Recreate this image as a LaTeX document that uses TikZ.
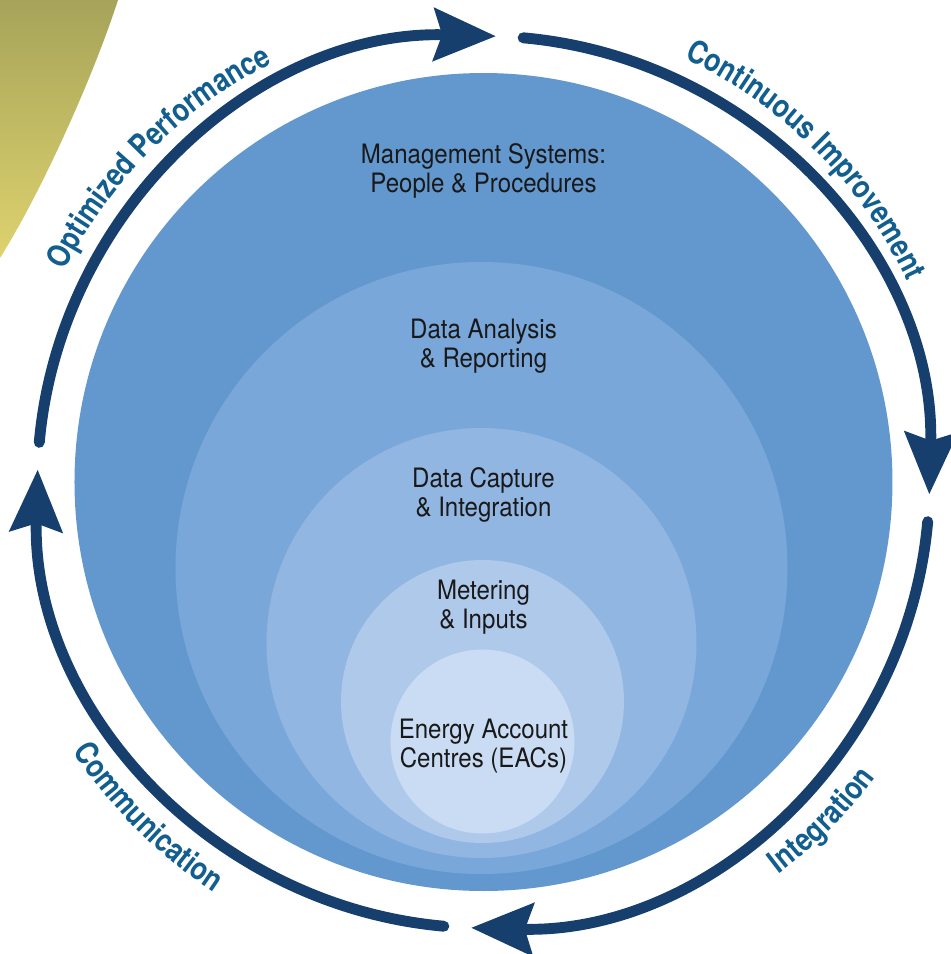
\documentclass[tikz,border=0pt]{standalone}
\usepackage{fontspec}
\setmainfont{TeX Gyre Heros}[FakeStretch=0.9]
\newfontfamily\ringfont{TeX Gyre Heros}[FakeStretch=0.84]
\usetikzlibrary{arrows.meta,decorations.text,positioning}
\definecolor{ringnavy}{RGB}{22,63,110}
\definecolor{ringlabel}{RGB}{17,94,143}
\definecolor{discA}{RGB}{99,152,207}
\definecolor{discB}{RGB}{121,167,217}
\definecolor{discC}{RGB}{146,182,226}
\definecolor{discD}{RGB}{175,201,235}
\definecolor{discE}{RGB}{201,220,243}
\definecolor{cornerolive}{RGB}{166,164,90}
\definecolor{corneryellow}{RGB}{222,210,110}
\tikzset{
    layertext/.style={align=center, text=black!90, font=\fontsize{7.6}{8.3}\selectfont},
    ringarc/.style={draw=ringnavy, line width=3.1pt, line cap=round},
    ringlabel/.style={decorate, decoration={text along path, text align=center,
        text={|\ringfont\bfseries\fontsize{9}{9}\selectfont\color{ringlabel}|#1}}}
}
\begin{document}
\begin{tikzpicture}[>={Stealth[length=17.6pt,width=14.8pt,inset=2.3pt]}]
    \useasboundingbox (-4.835,-4.72) rectangle (4.675,4.82);
    \shade[top color=cornerolive, bottom color=corneryellow]
        (-4.835,4.82) -- (-3.655,4.82) .. controls (-3.92,4.0) and (-4.45,2.85) .. (-4.835,2.24) -- cycle;
    \fill[discA] (0,0) circle (4.09);
    \fill[discB] (-0.02,-0.86) circle (3.06);
    \fill[discC] (-0.02,-1.61) circle (2.15);
    \fill[discD] (-0.01,-2.195) circle (1.415);
    \fill[discE] (-0.01,-2.595) circle (0.92);
    \foreach \a in {0,90,180,270}
        {
            \draw[ringarc, ->] ({174.9-\a}:4.46) arc[start angle=174.9-\a, end angle=88.4-\a, radius=4.46];
        }
    \node[layertext] (mgmt) at (0,3.11) {Management Systems:\\People \& Procedures};
    \node[layertext] (analysis) at (0,1.36) {Data Analysis\\\& Reporting};
    \node[layertext] (capture) at (0,-0.13) {Data Capture\\\& Integration};
    \node[layertext] (metering) at (0,-1.255) {Metering\\\& Inputs};
    \node[layertext] (eac) at (0,-2.64) {Energy Account\\Centres (EACs)};
    \path[ringlabel=Optimized Performance] (165:4.69) arc[start angle=165, end angle=105, radius=4.69];
    \path[ringlabel=Continuous Improvement] (75:4.69) arc[start angle=75, end angle=15, radius=4.69];
    \path[ringlabel=Communication] (195:4.91) arc[start angle=195, end angle=255, radius=4.91];
    \path[ringlabel=Integration] (-75:4.91) arc[start angle=-75, end angle=-15, radius=4.91];
\end{tikzpicture}
\end{document}
